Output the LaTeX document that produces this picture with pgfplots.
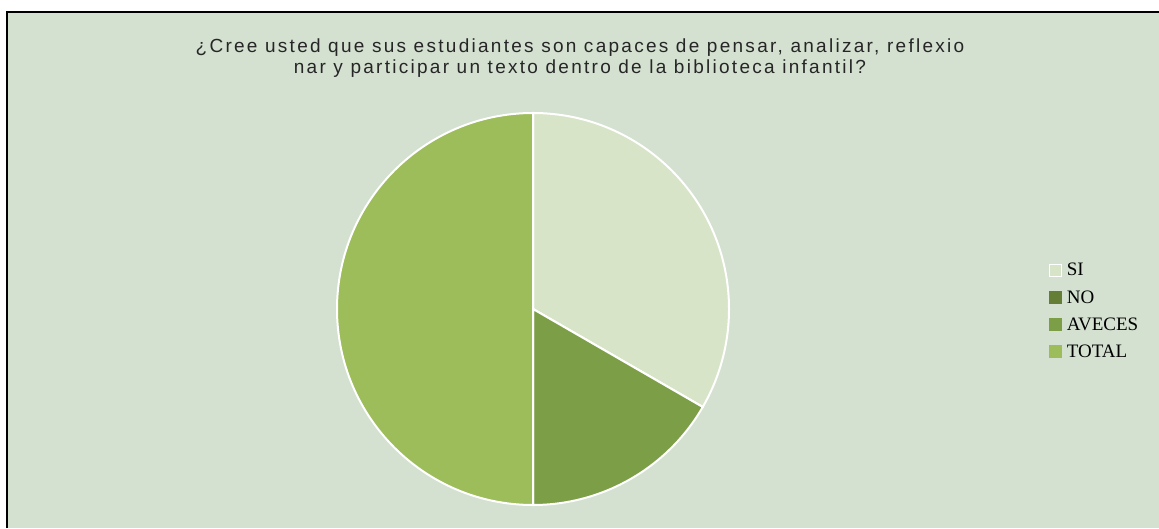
\documentclass[border=0pt]{standalone}
\usepackage{pgfplots}
\pgfplotsset{compat=1.18}
\usepackage{pgfplotstable}
\usepackage{fontspec}
\setmainfont{Liberation Sans}
\newfontfamily\titlefont{Liberation Sans}[LetterSpace=12]
\newfontfamily\legfont{Liberation Serif}

\definecolor{bgcol}{HTML}{D4E0D0}
\definecolor{pie0}{HTML}{D8E4C8}
\definecolor{pie1}{HTML}{657E35}
\definecolor{pie2}{HTML}{7C9E47}
\definecolor{pie3}{HTML}{9DBC5A}

% answers to the survey question
\pgfplotstableread{
label  value
SI     4
NO     0
AVECES 2
TOTAL  6
}\piedata

% start/end angle of every slice, clockwise from the top
\def\cum{0}
\def\tot{0}
\pgfplotsforeachungrouped \i in {0,...,3}{%
  \pgfplotstablegetelem{\i}{value}\of\piedata
  \pgfmathsetmacro\tot{\tot+\pgfplotsretval}%
}
\pgfplotsforeachungrouped \i in {0,...,3}{%
  \pgfplotstablegetelem{\i}{value}\of\piedata
  \pgfmathsetmacro\s{90-360*\cum/\tot}%
  \pgfmathsetmacro\cum{\cum+\pgfplotsretval}%
  \pgfmathsetmacro\e{90-360*\cum/\tot}%
  \expandafter\xdef\csname pieS\i\endcsname{\s}%
  \expandafter\xdef\csname pieE\i\endcsname{\e}%
}

\begin{document}
\begin{tikzpicture}[x=1pt,y=1pt]
\useasboundingbox (0,0) rectangle (1159,528);
\fill[white] (0,0) rectangle (1159,528);
\fill[bgcol] (7,0) rectangle (1159,516);
\draw[black, line width=2pt] (7,0) -- (7,516) -- (1159,516);

\node[font=\titlefont\fontsize{19}{20.5}\selectfont, align=center, text=black!85]
  at (580,470) {¿Cree usted que sus estudiantes son capaces de pensar, analizar, reflexio\\
  nar y participar un texto dentro de la biblioteca infantil?};

\begin{axis}[
  at={(337pt,23pt)}, anchor=south west,
  x=196pt, y=196pt,
  xmin=-1, xmax=1, ymin=-1, ymax=1,
  hide axis, clip=false,
  legend cell align=left,
  legend style={at={(1.815,0.622)}, anchor=north west, draw=none, fill=none,
    font=\legfont\fontsize{19}{19}\selectfont, row sep=9pt, inner sep=0pt},
  legend image code/.code={\draw[#1, line width=0.8pt] (0.5pt,-6pt) rectangle (13pt,6.5pt);
    \path (16pt,0pt);},
]
\pgfplotsinvokeforeach{0,...,3}{
  \fill[pie#1, draw=white, line width=2pt]
    (axis cs:0,0) -- (axis cs:{cos(\csname pieS#1\endcsname)},{sin(\csname pieS#1\endcsname)})
    arc[start angle=\csname pieS#1\endcsname, end angle=\csname pieE#1\endcsname, radius=196pt] -- cycle;
}
\addlegendimage{fill=pie0, draw=white}
\addlegendentry{SI}
\addlegendimage{fill=pie1, draw=pie1}
\addlegendentry{NO}
\addlegendimage{fill=pie2, draw=pie2}
\addlegendentry{AVECES}
\addlegendimage{fill=pie3, draw=pie3}
\addlegendentry{TOTAL}
\end{axis}
\end{tikzpicture}
\end{document}
